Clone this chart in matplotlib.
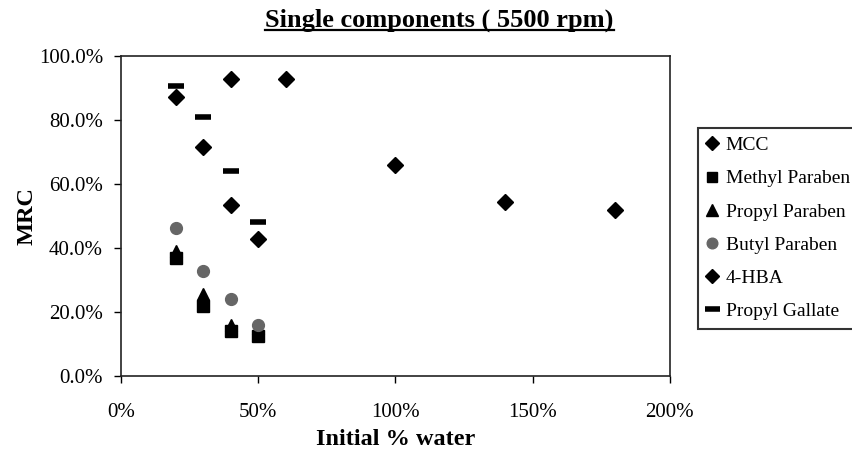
import numpy as np
import matplotlib
matplotlib.use("Agg")
import matplotlib.pyplot as plt
from matplotlib.ticker import FuncFormatter
from matplotlib.lines import Line2D

plt.rcParams['font.family'] = ['Liberation Serif', 'DejaVu Serif']

# --- data (initial % water, MRC %) ---
mcc_x = [40, 60, 100, 140, 180]
mcc_y = [92.7, 92.7, 65.9, 54.5, 51.8]

methyl_x = [20, 30, 40, 50]
methyl_y = [36.8, 22.0, 14.3, 12.5]

propyl_x = [20, 30, 40, 50]
propyl_y = [39.0, 25.8, 15.9, 15.0]

butyl_x = [20, 30, 40, 50]
butyl_y = [46.4, 32.9, 24.2, 15.9]

hba_x = [20, 30, 40, 50]
hba_y = [87.2, 71.5, 53.6, 43.0]

gallate_x = [20, 30, 40, 50]
gallate_y = [90.7, 80.8, 64.0, 48.2]

fig = plt.figure(figsize=(8.52, 4.53), dpi=100)
ax = fig.add_axes([0.142, 0.169, 0.644, 0.708])

ax.plot(mcc_x, mcc_y, ls='none', marker='D', ms=8, color='black', label='MCC')
ax.plot(methyl_x, methyl_y, ls='none', marker='s', ms=8, color='black', label='Methyl Paraben')
ax.plot(propyl_x, propyl_y, ls='none', marker='^', ms=9, color='black', label='Propyl Paraben')
ax.plot(butyl_x, butyl_y, ls='none', marker='o', ms=8.5, color='#666666', label='Butyl Paraben')
ax.plot(hba_x, hba_y, ls='none', marker='D', ms=8, color='black', label='4-HBA')
ax.plot(gallate_x, gallate_y, ls='none', marker='_', ms=12, mew=4, color='black', label='Propyl Gallate')

ax.set_xlim(0, 200)
ax.set_ylim(0, 100)
ax.set_xticks([0, 50, 100, 150, 200])
ax.set_yticks([0, 20, 40, 60, 80, 100])
ax.xaxis.set_major_formatter(FuncFormatter(lambda v, p: f"{v:.0f}%"))
ax.yaxis.set_major_formatter(FuncFormatter(lambda v, p: f"{v:.1f}%"))
ax.tick_params(direction='out', length=5, width=1, labelsize=15)
ax.tick_params(axis='x', pad=14)
ax.tick_params(axis='y', pad=8)
for s in ax.spines.values():
    s.set_linewidth(1.2)
    s.set_color('#222222')

ax.set_xlabel('Initial % water', fontsize=17.5, fontweight='bold', labelpad=5)
ax.set_ylabel('MRC', fontsize=17.5, fontweight='bold', labelpad=1)

leg = ax.legend(loc='upper left', bbox_to_anchor=(1.051, 0.775), frameon=True,
                fancybox=False, fontsize=14, handlelength=0.6, handletextpad=0.4,
                labelspacing=0.8, borderpad=0.45, borderaxespad=0, markerscale=0.9)
leg.get_frame().set_edgecolor('black')
leg.get_frame().set_linewidth(1.5)

title = fig.text(0.516, 0.956, 'Single components ( 5500 rpm)', ha='center', va='center',
                 fontsize=19, fontweight='bold')

# underline the title
fig.canvas.draw()
bb = title.get_window_extent(renderer=fig.canvas.get_renderer())
bb = bb.transformed(fig.transFigure.inverted())
fig.add_artist(Line2D([bb.x0, bb.x1], [bb.y0 + 0.004, bb.y0 + 0.004],
                      transform=fig.transFigure, color='black', lw=1.6))

fig.savefig('out.png', dpi=100)
